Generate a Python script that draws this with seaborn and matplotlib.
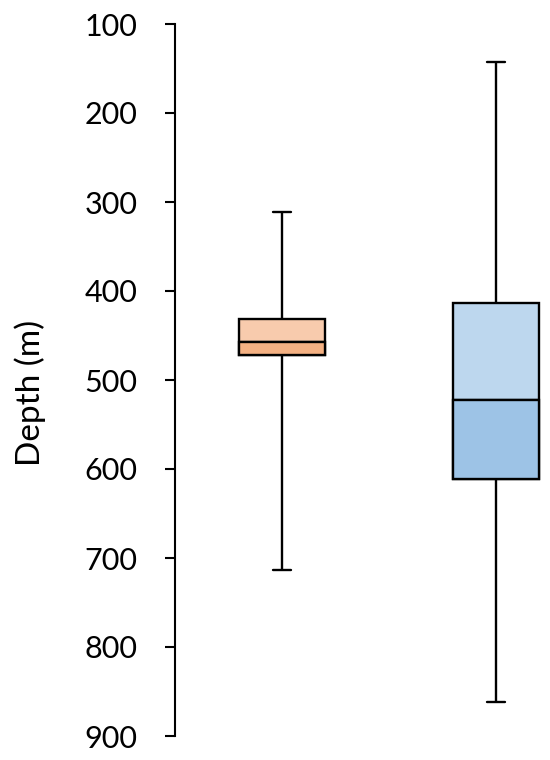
import numpy as np
import pandas as pd
import matplotlib
matplotlib.use("Agg")
import matplotlib.pyplot as plt
import seaborn as sns

# Estatísticas (profundidade em m)
groups = ["A", "B"]
minimo = [311, 143]
q1 = [431, 413]
mediana = [457, 523]
q3 = [472, 611]
maximo = [713, 862]

cor_clara = ["#F8CBAD", "#BDD7EE"]
cor_escura = ["#F4B183", "#9DC3E6"]

sns.set_style("white")
plt.rcParams['font.family'] = ['Lato', 'DejaVu Sans']

# 5 pontos por grupo -> quartis exatos com interpolação linear
linhas = []
for i, g in enumerate(groups):
    for v in (minimo[i], q1[i], mediana[i], q3[i], maximo[i]):
        linhas.append({"grupo": g, "depth": v})
df = pd.DataFrame(linhas)

fig = plt.figure(figsize=(5.5, 7.6), dpi=100)
ax = fig.add_axes([175 / 550, 24 / 760, 1 - 175 / 550, 712 / 760])

sns.boxplot(data=df, x="grupo", y="depth", hue="grupo", palette=cor_clara,
            saturation=1, whis=(0, 100), width=0.4, linecolor="black",
            linewidth=1.7, legend=False, ax=ax)

# metade inferior (mediana -> Q3) mais escura
for i in range(len(groups)):
    ax.bar(i, q3[i] - mediana[i], bottom=mediana[i], width=0.4,
           color=cor_escura[i], edgecolor="black", linewidth=1.7, zorder=3)

# tampas dos bigodes mais curtas
for i, cont in enumerate(ax.containers):
    if hasattr(cont, "caps"):
        for cap in cont.caps:
            cap.set_xdata([i - 0.04, i + 0.04])

ax.set_ylim(900, 100)
ax.set_xlim(-0.5, -0.5 + 375 / 214)
ax.set_yticks(np.arange(100, 901, 100))
ax.set_xticks([])
ax.set_xlabel("")
ax.set_ylabel("Depth (m)", fontsize=24, color="black")
ax.yaxis.set_label_coords(-0.345, 0.482)
ax.tick_params(axis="y", left=True, labelsize=22, length=7, width=1.5,
               pad=20, color="black", labelcolor="black")
for s in ["top", "right", "bottom"]:
    ax.spines[s].set_visible(False)
ax.spines["left"].set_linewidth(1.5)
ax.spines["left"].set_color("black")

fig.savefig("out.png", dpi=100)
